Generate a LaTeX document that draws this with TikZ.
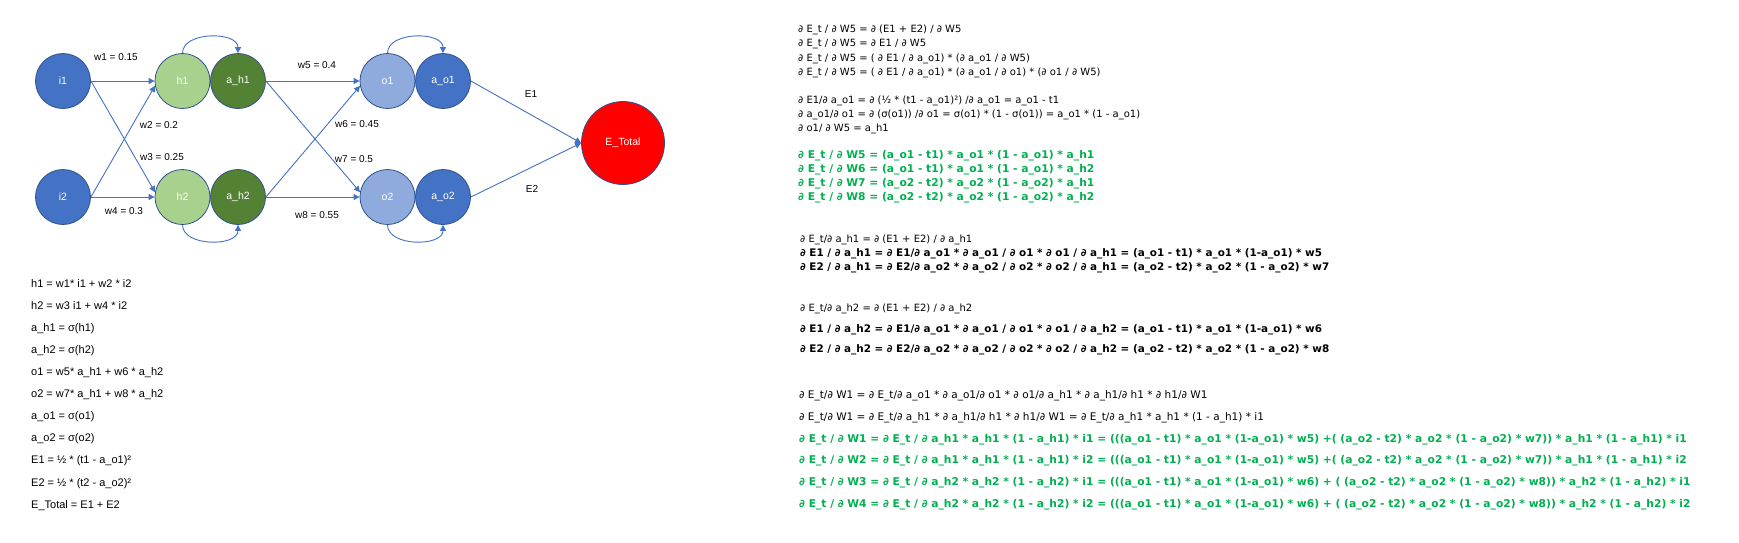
\documentclass[tikz,border=0pt]{standalone}
\usepackage{fontspec}
\setmainfont{Liberation Sans}
\newfontfamily\eqfont{DejaVu Sans}
\usetikzlibrary{arrows.meta}

\definecolor{inblue}{HTML}{4472C4}
\definecolor{rimblue}{HTML}{2F528F}
\definecolor{hidlight}{HTML}{A9D18E}
\definecolor{hiddark}{HTML}{548235}
\definecolor{outlight}{HTML}{8FAADC}
\definecolor{gradgreen}{HTML}{00B050}

\tikzset{
  neuron/.style={circle, draw=rimblue, line width=0.8pt, minimum size=55pt,
    inner sep=0pt, text=white, font=\fontsize{10.5}{12}\selectfont},
  link/.style={draw=inblue, line width=0.9pt, -{Triangle[width=6pt,length=6pt]}},
  wlabel/.style={inner sep=0pt, font=\fontsize{10}{12}\selectfont},
  eqleft/.style={anchor=base west, inner sep=0pt, font=\fontsize{11}{13}\selectfont},
  eqright/.style={anchor=base west, inner sep=0pt, font=\eqfont\fontsize{10}{12}\selectfont},
  eqwide/.style={eqright, font=\eqfont\fontsize{10.5}{12}\selectfont},
  eqbold/.style={eqright, font=\eqfont\bfseries\fontsize{10.4}{12}\selectfont},
  eqgreen/.style={eqbold, text=gradgreen, font=\eqfont\bfseries\fontsize{10.7}{12}\selectfont},
}

\begin{document}
\begin{tikzpicture}[x=1pt, y=-1pt]
    \useasboundingbox[fill=white] (0,0) rectangle (1739,542);

    % inputs
    \node[neuron, fill=inblue] (i1) at (63,81) {i1};
    \node[neuron, fill=inblue] (i2) at (63,197) {i2};

    % hidden layer
    \node[neuron, fill=hidlight] (h1) at (182.5,81) {h1};
    \node[neuron, fill=hiddark] (ah1) at (238,81) {a\_h1};
    \node[neuron, fill=hidlight] (h2) at (182.5,197) {h2};
    \node[neuron, fill=hiddark] (ah2) at (238,197) {a\_h2};

    % output layer
    \node[neuron, fill=outlight] (o1) at (387.5,81) {o1};
    \node[neuron, fill=inblue] (ao1) at (443,81) {a\_o1};
    \node[neuron, fill=outlight] (o2) at (387.5,197) {o2};
    \node[neuron, fill=inblue] (ao2) at (443,197) {a\_o2};

    % error
    \node[neuron, fill=red, minimum size=83pt] (etot) at (623,143) {E\_Total};

    % weights
    \draw[link] (i1.east) -- (h1.west);
    \draw[link] (i1.east) -- (h2.170);
    \draw[link] (i2.east) -- (h1.190);
    \draw[link] (i2.east) -- (h2.west);
    \draw[link] (ah1.east) -- (o1.west);
    \draw[link] (ah1.east) -- (o2.170);
    \draw[link] (ah2.east) -- (o1.190);
    \draw[link] (ah2.east) -- (o2.west);
    \draw[link] (ao1.east) -- (etot.west);
    \draw[link] (ao2.east) -- (etot.west);

    % activations
    \draw[link] (h1.north) .. controls +(0,-22) and +(0,-22) .. (ah1.north);
    \draw[link] (o1.north) .. controls +(0,-22) and +(0,-22) .. (ao1.north);
    \draw[link] (h2.south) .. controls +(0,22) and +(0,22) .. (ah2.south);
    \draw[link] (o2.south) .. controls +(0,22) and +(0,22) .. (ao2.south);

    % weight labels
    \node[wlabel] (w1) at (116,57) {w1 = 0.15};
    \node[wlabel] (w2) at (159,125) {w2 = 0.2};
    \node[wlabel] (w3) at (162,157) {w3 = 0.25};
    \node[wlabel] (w4) at (124,211) {w4 = 0.3};
    \node[wlabel] (w5) at (317,65) {w5 = 0.4};
    \node[wlabel] (w6) at (357,124) {w6 = 0.45};
    \node[wlabel] (w7) at (354,159) {w7 = 0.5};
    \node[wlabel] (w8) at (317,215) {w8 = 0.55};
    \node[wlabel] (e1) at (531,94) {E1};
    \node[wlabel] (e2) at (532,189) {E2};

    % forward pass
    \foreach \eqline [count=\k] in {
        {h1 = w1* i1 + w2 * i2},
        {h2 = w3 i1 + w4 * i2},
        {a\_h1 = σ(h1)},
        {a\_h2 = σ(h2)},
        {o1 = w5* a\_h1 + w6 * a\_h2},
        {o2 = w7* a\_h1 + w8 * a\_h2},
        {a\_o1 = σ(o1)},
        {a\_o2 = σ(o2)},
        {E1 = ½ * (t1 - a\_o1)²},
        {E2 = ½ * (t2 - a\_o2)²},
        {E\_Total = E1 + E2}}
      \node[eqleft] (L\k) at (31,{265+22.1*\k}) {\eqline};

    % output weights
    \foreach \eqline [count=\k] in {
        {∂ E\_t / ∂ W5 = ∂ (E1 + E2) / ∂ W5},
        {∂ E\_t / ∂ W5 = ∂ E1 / ∂ W5},
        {∂ E\_t / ∂ W5 = ( ∂ E1 / ∂ a\_o1) * (∂ a\_o1 / ∂ W5)},
        {∂ E\_t / ∂ W5 = ( ∂ E1 / ∂ a\_o1) * (∂ a\_o1 / ∂ o1) * (∂ o1 / ∂ W5)}}
      \node[eqright] (T\k) at (798,{18.4+14.2*\k}) {\eqline};
    \foreach \eqline [count=\k] in {
        {∂ E1/∂ a\_o1 = ∂ (½ * (t1 - a\_o1)²) /∂ a\_o1 = a\_o1 - t1},
        {∂ a\_o1/∂ o1 = ∂ (σ(o1)) /∂ o1 = σ(o1) * (1 - σ(o1)) = a\_o1 * (1 - a\_o1)},
        {∂ o1/ ∂ W5 = a\_h1}}
      \node[eqright] (P\k) at (798,{89+14*\k}) {\eqline};
    \foreach \eqline [count=\k] in {
        {∂ E\_t / ∂ W5 = (a\_o1 - t1) * a\_o1 * (1 - a\_o1) * a\_h1},
        {∂ E\_t / ∂ W6 = (a\_o1 - t1) * a\_o1 * (1 - a\_o1) * a\_h2},
        {∂ E\_t / ∂ W7 = (a\_o2 - t2) * a\_o2 * (1 - a\_o2) * a\_h1},
        {∂ E\_t / ∂ W8 = (a\_o2 - t2) * a\_o2 * (1 - a\_o2) * a\_h2}}
      \node[eqgreen] (V\k) at (798,{144.5+14.1*\k}) {\eqline};

    % hidden outputs
    \node[eqright] (M1) at (800,242.6) {∂ E\_t/∂ a\_h1 = ∂ (E1 + E2) / ∂ a\_h1};
    \node[eqbold] (M2) at (800,256.8) {∂ E1 / ∂ a\_h1 = ∂ E1/∂ a\_o1 * ∂ a\_o1 / ∂ o1 * ∂ o1 / ∂ a\_h1 = (a\_o1 - t1) * a\_o1 * (1-a\_o1) * w5};
    \node[eqbold] (M3) at (800,270.4) {∂ E2 / ∂ a\_h1 = ∂ E2/∂ a\_o2 * ∂ a\_o2 / ∂ o2 * ∂ o2 / ∂ a\_h1 = (a\_o2 - t2) * a\_o2 * (1 - a\_o2) * w7};
    \node[eqright] (M4) at (800,311.6) {∂ E\_t/∂ a\_h2 = ∂ (E1 + E2) / ∂ a\_h2};
    \node[eqbold] (M5) at (800,332.6) {∂ E1 / ∂ a\_h2 = ∂ E1/∂ a\_o1 * ∂ a\_o1 / ∂ o1 * ∂ o1 / ∂ a\_h2 = (a\_o1 - t1) * a\_o1 * (1-a\_o1) * w6};
    \node[eqbold] (M6) at (800,352.6) {∂ E2 / ∂ a\_h2 = ∂ E2/∂ a\_o2 * ∂ a\_o2 / ∂ o2 * ∂ o2 / ∂ a\_h2 = (a\_o2 - t2) * a\_o2 * (1 - a\_o2) * w8};

    % input weights
    \node[eqwide] (B1) at (799,398.6) {∂ E\_t/∂ W1 =  ∂ E\_t/∂ a\_o1 * ∂ a\_o1/∂ o1 * ∂ o1/∂ a\_h1 * ∂ a\_h1/∂ h1 * ∂ h1/∂ W1};
    \node[eqwide] (B2) at (799,420.2) {∂ E\_t/∂ W1 =  ∂ E\_t/∂ a\_h1 * ∂ a\_h1/∂ h1 * ∂ h1/∂ W1 = ∂ E\_t/∂ a\_h1 * a\_h1 * (1 - a\_h1) * i1};
    \foreach \eqline [count=\k] in {
        {∂ E\_t / ∂ W1 =  ∂ E\_t / ∂ a\_h1 * a\_h1 * (1 - a\_h1) * i1 = (((a\_o1 - t1) * a\_o1 * (1-a\_o1) * w5) +( (a\_o2 - t2) * a\_o2 * (1 - a\_o2) * w7)) * a\_h1 * (1 - a\_h1) * i1},
        {∂ E\_t / ∂ W2 =  ∂ E\_t / ∂ a\_h1 * a\_h1 * (1 - a\_h1) * i2 = (((a\_o1 - t1) * a\_o1 * (1-a\_o1) * w5) +( (a\_o2 - t2) * a\_o2 * (1 - a\_o2) * w7)) * a\_h1 * (1 - a\_h1) * i2},
        {∂ E\_t / ∂ W3 =  ∂ E\_t / ∂ a\_h2 * a\_h2 * (1 - a\_h2) * i1 = (((a\_o1 - t1) * a\_o1 * (1-a\_o1) * w6) + ( (a\_o2 - t2) * a\_o2 * (1 - a\_o2) * w8)) * a\_h2 * (1 - a\_h2) * i1},
        {∂ E\_t / ∂ W4 =  ∂ E\_t / ∂ a\_h2 * a\_h2 * (1 - a\_h2) * i2 = (((a\_o1 - t1) * a\_o1 * (1-a\_o1) * w6) + ( (a\_o2 - t2) * a\_o2 * (1 - a\_o2) * w8)) * a\_h2 * (1 - a\_h2) * i2}}
      \node[eqgreen] (G\k) at (799,{420.2+21.8*\k}) {\eqline};
\end{tikzpicture}
\end{document}
